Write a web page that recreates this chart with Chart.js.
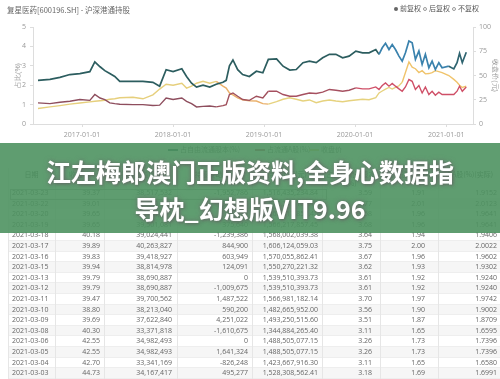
<!DOCTYPE html>
<html><head><meta charset="utf-8">
<script src="https://cdn.jsdelivr.net/npm/chart.js@4.4.0/dist/chart.umd.min.js"></script>
<style>
html,body{margin:0;padding:0;background:#fff;width:500px;height:379px;overflow:hidden;font-family:"Noto Sans CJK SC","Noto Sans",sans-serif;}
#wrap{position:relative;width:500px;height:379px;overflow:hidden;}
#chart{position:absolute;left:0;top:0;}
.t{position:absolute;white-space:nowrap;color:#666;}
#title{left:7px;top:5px;font-size:7.5px;line-height:10px;}
#tlegend{left:392px;top:3px;font-size:7px;line-height:10px;color:#555;}
.dot{display:inline-block;width:4px;height:4px;border-radius:50%;vertical-align:middle;margin:0 2px 1px 2px;box-sizing:border-box;}
#blegend{left:0;top:144px;width:500px;height:10px;font-size:7px;line-height:10px;}
.li{position:absolute;top:0;white-space:nowrap;color:#777;}
.ln{display:inline-block;width:10px;height:1.5px;vertical-align:middle;margin-right:2px;}
.cell{position:absolute;font-family:"Open Sans","Noto Sans CJK SC",sans-serif;font-size:7px;color:#666;white-space:nowrap;line-height:10.6px;height:10.6px;}
.row{position:absolute;left:8px;width:492px;height:10.6px;border-bottom:1px solid #eee;box-sizing:border-box;}
.vsep{position:absolute;width:1px;background:#e6e6e6;}
.hcell{position:absolute;font-size:7px;color:#555;text-align:center;line-height:9px;}
#banner{position:absolute;left:0;top:143px;width:500px;height:90px;background:rgba(78,146,97,0.9);}
.bt{position:absolute;left:0;width:500px;text-align:center;color:#fff;font-weight:700;font-size:25px;line-height:30px;font-family:"Noto Sans CJK SC",sans-serif;white-space:nowrap;text-shadow:0 0 5px rgba(110,110,110,0.85),1px 1px 3px rgba(90,90,90,0.7);}
</style></head>
<body><div id="wrap">
<canvas id="chart" width="500" height="160"></canvas>
<div class="t" id="title">复星医药[600196.SH] - 沪深港通持股</div>
<div class="t" id="tlegend"><span class="dot" style="background:#666"></span>前复权<span class="dot" style="border:1px solid #999"></span>后复权<span class="dot" style="border:1px solid #999"></span>不复权</div>
<div class="t" id="blegend">
 <span class="li" style="left:168px"><span class="ln" style="background:#2c5d5f"></span>占自由流通股本(%)</span>
 <span class="li" style="left:255px"><span class="ln" style="background:#c0506a"></span>占流通A股(%)</span>
 <span class="li" style="left:309px"><span class="ln" style="background:#e6cf7c"></span>收盘价</span>
</div>
<div id="table"></div>
<div id="banner"></div>
<div class="bt" style="top:156px">江左梅郎澳门正版资料,全身心数据指</div>
<div class="bt" style="top:193px">导枕_幻想版VIT9.96</div>
</div>
<script>
// ---- chart data ----
const dates = ["2016-07-08","2016-08-25","2016-10-04","2016-11-13","2016-12-23","2017-02-01","2017-02-21","2017-03-14","2017-04-02","2017-04-22","2017-05-12","2017-06-01","2017-07-24","2017-09-02","2017-10-12","2017-11-08","2017-12-04","2018-01-01","2018-02-05","2018-02-24","2018-03-16","2018-04-05","2018-05-01","2018-05-28","2018-06-23","2018-07-20","2018-08-02","2018-08-15","2018-08-29","2018-09-17","2018-10-07","2018-11-03","2018-12-01","2018-12-27","2019-01-18","2019-02-20","2019-03-18","2019-04-14","2019-05-10","2019-06-06","2019-07-02","2019-07-29","2019-08-24","2019-09-20","2019-10-16","2019-11-12","2019-12-08","2020-01-04","2020-01-31","2020-02-26","2020-03-24","2020-04-06","2020-04-19","2020-05-02","2020-05-16","2020-05-29","2020-06-11","2020-06-25","2020-07-08","2020-07-21","2020-08-04","2020-08-17","2020-08-30","2020-09-13","2020-09-26","2020-10-09","2020-10-23","2020-11-05","2020-11-18","2020-12-02","2020-12-15","2021-01-11","2021-01-31","2021-02-13","2021-02-23","2021-03-06","2021-03-22"];
const freeFloatPct = [2.25,2.3,2.4,2.55,2.6,2.7,3.2,2.95,2.75,2.6,2.45,2.2,2.2,2.2,2.15,1.95,2.8,2.7,2.85,2.45,2.1,1.9,2.0,1.9,2.05,2.15,2.25,3.0,3.3,2.8,2.55,2.45,2.72,2.64,3.33,3.36,2.98,2.78,2.81,3.16,3.24,3.16,3.41,3.59,3.59,3.41,3.5,3.76,3.67,3.67,3.84,3.59,3.93,4.16,3.84,4.1,3.84,3.5,3.24,3.67,4.28,4.19,3.33,3.76,3.07,3.59,2.9,3.24,2.81,3.16,2.9,2.98,2.84,3.16,3.64,3.16,3.7];
const tradableAPct = [1.09,1.05,1.12,1.17,1.26,1.22,1.52,1.34,1.26,1.09,1.05,1.02,1.0,1.0,0.95,0.97,1.34,1.26,1.34,1.17,1.05,0.88,0.91,0.93,0.88,0.95,1.0,1.52,1.6,1.43,1.26,1.22,1.43,1.34,1.69,1.69,1.52,1.43,1.43,1.52,1.6,1.57,1.64,1.78,1.74,1.69,1.74,1.86,1.81,1.81,1.91,1.78,1.98,2.12,1.95,2.09,1.95,1.81,1.69,1.91,2.29,2.2,1.78,1.98,1.6,1.91,1.52,1.69,1.48,1.64,1.52,1.52,1.52,1.69,1.95,1.69,1.91];
const closePrice = [16,17.6,19,20.5,21.7,22.8,23.4,24,24.5,25.5,26,27,27.5,26,30,36,41,40,42,37,39,42,44,42,44,39,37,32,30,27,25,24,23.7,21,20.5,23,25.5,27,25.5,23.7,24.8,22,23.7,24.8,23.7,23,24,24.8,25.5,25,27.2,32,34,36,37.7,36,37.7,39.4,43,53,64,58.6,57,53,55,51.7,52,53,55,54,53,50,46,43,40,37.7,39];
const yearTicks = ["2017-01-01","2018-01-01","2019-01-01","2020-01-01","2021-01-01"];
const leftTicks = [0,1,2,3,4,5];
const rightTicks = [0,25,50,75,100];

// ---- table data ----
const tHeaders = ["日期","收盘价","持股数量(股)","持股变动(股)","持股市值(元)","占自由流通股本(%)","占流通A股(%)","占A股(%)(实际)"];
const tDates = ["2021-03-23","2021-03-22","2021-03-20","2021-03-19","2021-03-18","2021-03-17","2021-03-16","2021-03-15","2021-03-13","2021-03-12","2021-03-11","2021-03-10","2021-03-09","2021-03-08","2021-03-06","2021-03-05","2021-03-04","2021-03-03"];
const tClose = ["39.37","39.01","39.65","39.65","40.18","39.89","39.83","39.94","39.79","39.79","39.47","38.80","39.69","40.30","42.55","42.55","42.70","44.73"];
const tShares = ["38,517,532","40,470,318","39,501,081","39,501,081","39,024,441","40,263,827","39,418,927","38,814,978","38,690,887","38,690,887","39,700,562","38,213,040","37,622,840","33,371,818","34,982,493","34,982,493","33,341,169","34,167,417"];
const tChange = ["-1,952,786","969,237","0","375,640","-1,239,386","844,900","603,949","124,091","0","-1,009,675","1,487,522","590,200","4,251,022","-1,610,675","0","1,641,324","-826,248","495,277"];
const tValue = ["1,516,435,234.84","1,578,747,105.18","1,566,217,857.45","1,566,217,857.45","1,568,002,039.38","1,606,124,059.03","1,570,055,862.41","1,550,270,221.32","1,539,510,393.73","1,539,510,393.73","1,566,981,182.14","1,482,665,952.00","1,493,250,515.60","1,344,884,265.40","1,488,505,077.15","1,488,505,077.15","1,423,667,916.30","1,528,308,562.41"];
const tPctFree = ["3.59","3.77","3.68","3.68","3.64","3.75","3.67","3.62","3.61","3.61","3.70","3.56","3.51","3.11","3.26","3.26","3.11","3.18"];
const tPctA = ["1.91","2.01","1.96","1.96","1.94","2.00","1.96","1.93","1.92","1.92","1.97","1.90","1.87","1.65","1.73","1.73","1.65","1.69"];
const tPctAll = ["1.9152","2.0123","1.9641","1.9641","1.9406","2.0022","1.9602","1.9302","1.9240","1.9240","1.9742","1.9002","1.8709","1.6595","1.7396","1.7396","1.6580","1.6991"];

// ---- build table ----
(function(){
  const tb = document.getElementById('table');
  const rowTop0 = 188, rowH = 10.6;
  const seps = [8,55,104,177,252,322,380,438];
  const colL = [8,55,104,177,252,322,380,438];
  const colR = [55,104,177,252,322,380,438,500];
  const rightEdge = [null,100,172,248,318,372,425,497];
  tHeaders.forEach((h,i)=>{
    const d=document.createElement('div');d.className='hcell';
    d.style.left=colL[i]+'px';d.style.width=(colR[i]-colL[i])+'px';d.style.top='170px';
    d.textContent=h;tb.appendChild(d);
  });
  const cols=[tDates,tClose,tShares,tChange,tValue,tPctFree,tPctA,tPctAll];
  tDates.forEach((_,r)=>{
    const top=rowTop0+r*rowH;
    const row=document.createElement('div');row.className='row';row.style.top=top+'px';
    if(r%2===1) row.style.background='#f6f6f6';
    tb.appendChild(row);
    cols.forEach((c,i)=>{
      const d=document.createElement('div');d.className='cell';d.style.top=top+'px';
      if(i===0){d.style.left='12px';}
      else{d.style.right=(500-rightEdge[i])+'px';}
      d.textContent=c[r];tb.appendChild(d);
    });
  });
  seps.forEach(x=>{const s=document.createElement('div');s.className='vsep';s.style.left=x+'px';s.style.top='168px';s.style.height=(379-168)+'px';tb.appendChild(s);});
  const sel=document.createElement('div');sel.style.cssText='position:absolute;left:10px;top:188.5px;width:315px;height:9px;border:1px solid #aaa;';
  tb.appendChild(sel);
})();

// ---- chart ----
const toTs = s => Date.parse(s + 'T00:00:00Z');
const xs = dates.map(toTs);
const mk = arr => arr.map((v,i)=>({x: xs[i], y: v}));
const fmt = v => new Date(v).toISOString().slice(0,10);
function pick(stops, def){
  return ctx => { const x = ctx.p0.parsed.x; let c = def; for (const [s,col] of stops){ if (x >= toTs(s)) c = col; } return c; };
}
const tealStops = [["2020-04-01","#3a82ad"],["2020-12-20","#2f6470"]];
const redStops = [["2018-06-01","#a0505c"],["2019-01-01","#a65060"],["2020-01-01","#cf4f67"]];
const yelStops = [["2018-06-10","#eab06a"],["2019-01-10","#e6d27e"],["2020-07-01","#f0c46c"]];
const axisFont = {size:7, family:'"Open Sans","Noto Sans CJK SC",sans-serif'};
new Chart(document.getElementById('chart'), {
  type: 'line',
  data: { datasets: [
    {label:'占自由流通股本(%)', data: mk(freeFloatPct), yAxisID:'y', borderColor:'#2c5d5f', borderWidth:1.7, pointRadius:0, tension:0, segment:{borderColor: pick(tealStops,'#2c5d5f')}},
    {label:'占流通A股(%)', data: mk(tradableAPct), yAxisID:'y', borderColor:'#8e4e5e', borderWidth:1.4, pointRadius:0, tension:0, segment:{borderColor: pick(redStops,'#8e4e5e')}},
    {label:'收盘价', data: mk(closePrice), yAxisID:'y1', borderColor:'#e6cf7c', borderWidth:1.4, pointRadius:0, tension:0, segment:{borderColor: pick(yelStops,'#e6cf7c')}}
  ]},
  options: {
    responsive:false, animation:false, devicePixelRatio:1,
    layout:{padding:{top:27,left:0,right:0,bottom:0}},
    plugins:{legend:{display:false}, tooltip:{enabled:false}},
    scales:{
      x:{type:'linear', min:Date.UTC(2016,5,18), max:Date.UTC(2021,3,18),
        afterBuildTicks: s => { s.ticks = yearTicks.map(t=>({value: toTs(t)})); },
        afterFit: s => { s.height = 36; },
        ticks:{autoSkip:false, maxRotation:0, color:'#999', font:axisFont, padding:4, callback: v => fmt(v)},
        grid:{drawOnChartArea:false, tickLength:3, color:'#ddd'}, border:{color:'#ddd'}},
      y:{position:'left', min:0, max:5,
        afterBuildTicks: s => { s.ticks = leftTicks.map(v=>({value:v})); },
        afterFit: s => { s.width = 33; },
        ticks:{color:'#999', font:axisFont, padding:4},
        grid:{drawOnChartArea:false, tickLength:3, color:'#ddd'}, border:{color:'#ddd'},
        title:{display:true, text:'占比(%)', color:'#999', font:{size:7}, padding:{top:13.8,bottom:0}}},
      y1:{position:'right', min:0, max:100,
        afterBuildTicks: s => { s.ticks = rightTicks.map(v=>({value:v})); },
        afterFit: s => { s.width = 27; },
        ticks:{color:'#999', font:axisFont, padding:3},
        grid:{drawOnChartArea:false, tickLength:3, color:'#ddd'}, border:{color:'#ddd'},
        title:{display:true, text:'收盘价(元)', color:'#999', font:{size:7}, padding:{top:0.8,bottom:0}}}
    }
  }
});
</script>
</body></html>
